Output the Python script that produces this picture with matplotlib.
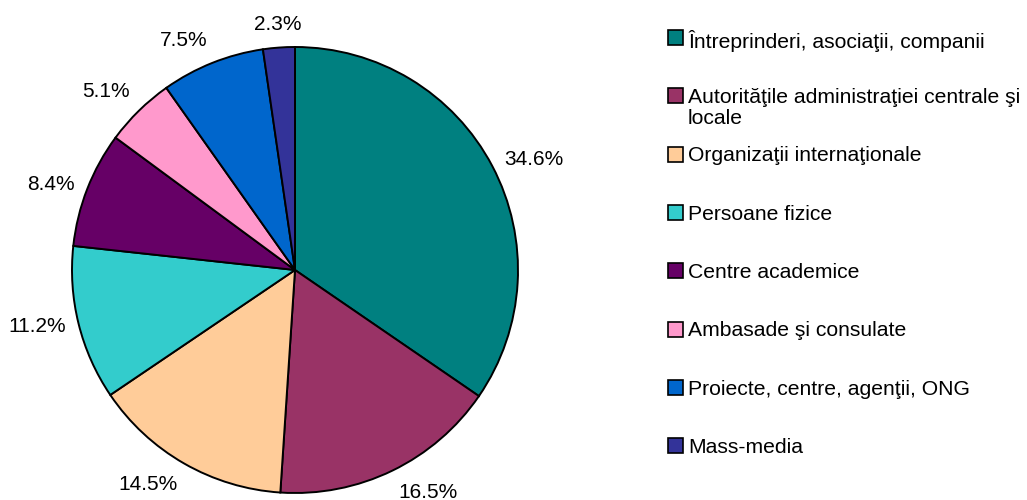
import numpy as np
import matplotlib.pyplot as plt
from matplotlib.patches import Rectangle

plt.rcParams['font.family'] = ['Liberation Sans', 'DejaVu Sans']
plt.rcParams['font.size'] = 15

# date
categories = [
    'Întreprinderi, asociaţii, companii',
    'Autorităţile administraţiei centrale şi\nlocale',
    'Organizaţii internaţionale',
    'Persoane fizice',
    'Centre academice',
    'Ambasade şi consulate',
    'Proiecte, centre, agenţii, ONG',
    'Mass-media',
]
values = [34.6, 16.5, 14.5, 11.2, 8.4, 5.1, 7.5, 2.3]
colors = ['#008080', '#993366', '#FFCC99', '#33CCCC',
          '#660066', '#FF99CC', '#0066CC', '#333399']

W, H = 1027, 500
fig = plt.figure(figsize=(W / 100, H / 100), dpi=100)

# pie: centru (295, 270) px, raza 223 px
cx, cy, r = 295, 270, 223
ax = fig.add_axes([(cx - r) / W, (H - cy - r) / H, 2 * r / W, 2 * r / H])

wedges, _, autotexts = ax.pie(values, colors=colors, startangle=90, counterclock=False,
                              autopct='%.1f%%', normalize=True,
                              wedgeprops=dict(edgecolor='black', linewidth=1.4))
ax.set_xlim(-1, 1)
ax.set_ylim(-1, 1)
ax.set_aspect('equal')

# etichete procentuale ancorate in afara, ca in Excel
for w, t in zip(wedges, autotexts):
    ang = np.radians((w.theta1 + w.theta2) / 2)
    c, s = np.cos(ang), np.sin(ang)
    t.set_position((1.06 * c, 1.06 * s))
    t.set_ha('center' if abs(c) < 0.2 else ('left' if c > 0 else 'right'))
    t.set_va('center' if abs(s) < 0.5 else ('bottom' if s > 0 else 'top'))
    t.set_fontsize(15)
    t.set_clip_on(False)

# legenda
box = 15
step = 58.3
y0 = 37.5
for i, (lab, col) in enumerate(zip(categories, colors)):
    yc = y0 + i * step
    fig.add_artist(Rectangle((668 / W, (H - yc - box / 2) / H), box / W, box / H,
                             facecolor=col, edgecolor='black', linewidth=1.2,
                             transform=fig.transFigure))
    fig.text(688 / W, (H - yc + 7.7) / H, lab, ha='left', va='top',
             fontsize=15.2, linespacing=1.1)

fig.savefig('out.png', dpi=100)
